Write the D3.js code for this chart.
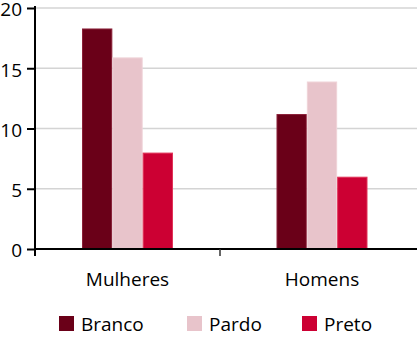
<!DOCTYPE html>
<html><head><meta charset="utf-8">
<script src="https://cdn.jsdelivr.net/npm/d3@7/dist/d3.min.js"></script>
<style>body{margin:0;background:#fff}svg{display:block;font-family:"Open Sans",sans-serif}</style>
</head><body><svg id="c" width="417" height="337"></svg>
<script>
const categories = ["Mulheres", "Homens"];
const seriesNames = ["Branco", "Pardo", "Preto"];
const branco = [18.3, 11.2];
const pardo = [15.9, 13.9];
const preto = [8.0, 6.0];
const yTicks = [0, 5, 10, 15, 20];
const colors = ["#6a0018", "#e8c4cb", "#cc0033"];
const strokes = ["#8a2038", "#efd3d8", "#e03358"];

const values = [branco, pardo, preto];
const svg = d3.select("#c");
const mLeft = 35, mRight = 417, mTop = 8, mBottom = 249;

const y = d3.scaleLinear().domain([0, 20]).range([mBottom, mTop]);
const x0 = d3.scaleBand().domain(categories).range([30.25, 419.25]).padding(0);
const x1 = d3.scaleBand().domain(seriesNames).range([0, x0.bandwidth()]).paddingInner(0).paddingOuter(1.706);

// grid
svg.append("g").selectAll("line").data(yTicks.filter(d => d > 0)).join("line")
  .attr("x1", mLeft).attr("x2", mRight)
  .attr("y1", d => y(d)).attr("y2", d => y(d))
  .attr("stroke", "#d4d4d4").attr("stroke-width", 1.5);

// bars
categories.forEach((c, ci) => {
  seriesNames.forEach((s, si) => {
    const v = values[si][ci];
    svg.append("rect")
      .attr("x", x0(c) + x1(s) + 0.5)
      .attr("y", y(v) + 0.5)
      .attr("width", x1.bandwidth() - 1)
      .attr("height", y(0) - y(v) - 0.5)
      .attr("fill", colors[si])
      .attr("stroke", strokes[si]).attr("stroke-width", 1);
  });
});

// y axis
const yAxis = svg.append("g").attr("transform", `translate(${mLeft},0)`)
  .call(d3.axisLeft(y).tickValues(yTicks).tickSize(8).tickPadding(5));
yAxis.select(".domain").remove();
yAxis.selectAll(".tick line").attr("stroke", "#000").attr("stroke-width", 2);
yAxis.selectAll(".tick text").attr("font-size", 19).attr("dy", "0.42em")
  .attr("font-family", "Open Sans").attr("fill", "#000");
svg.append("line").attr("x1", mLeft).attr("x2", mLeft).attr("y1", mTop - 2).attr("y2", mBottom + 7)
  .attr("stroke", "#000").attr("stroke-width", 2);

// x axis
svg.append("line").attr("x1", mLeft).attr("x2", mRight).attr("y1", mBottom).attr("y2", mBottom)
  .attr("stroke", "#000").attr("stroke-width", 2);
svg.append("line").attr("x1", 220).attr("x2", 220).attr("y1", mBottom).attr("y2", mBottom + 7)
  .attr("stroke", "#333").attr("stroke-width", 1.5);
svg.append("g").selectAll("text").data(categories).join("text")
  .attr("x", d => x0(d) + x1("Pardo") + x1.bandwidth() / 2)
  .attr("y", 286)
  .attr("text-anchor", "middle").attr("font-size", 19).attr("fill", "#000")
  .text(d => d);

// legend
const legX = [59, 187, 302];
const leg = svg.append("g");
seriesNames.forEach((s, i) => {
  leg.append("rect").attr("x", legX[i]).attr("y", 316).attr("width", 15).attr("height", 15).attr("fill", colors[i]);
  leg.append("text").attr("x", legX[i] + 22).attr("y", 331).attr("font-size", 19).attr("fill", "#000").text(s);
});
</script></body></html>
